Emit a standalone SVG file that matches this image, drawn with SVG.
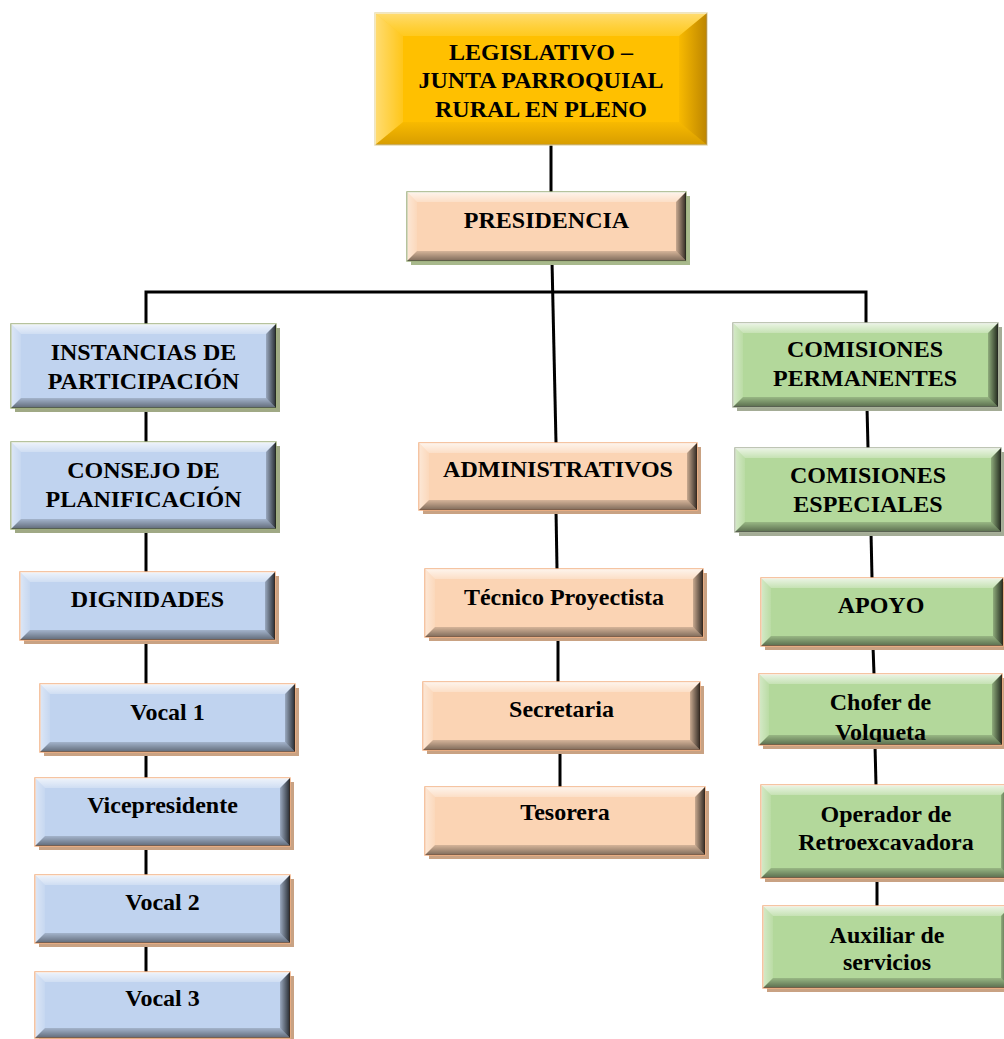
<svg xmlns="http://www.w3.org/2000/svg" width="1004" height="1039" viewBox="0 0 1004 1039">
<defs>
<linearGradient id="gTop" x1="0" y1="0" x2="0" y2="1"><stop offset="0" stop-color="#fff" stop-opacity="0.75"/><stop offset="1" stop-color="#fff" stop-opacity="0.25"/></linearGradient>
<linearGradient id="gLeft" x1="0" y1="0" x2="1" y2="0"><stop offset="0" stop-color="#fff" stop-opacity="0.45"/><stop offset="1" stop-color="#fff" stop-opacity="0.1"/></linearGradient>
<linearGradient id="gRight" x1="0" y1="0" x2="1" y2="0"><stop offset="0" stop-color="#000" stop-opacity="0.2"/><stop offset="1" stop-color="#000" stop-opacity="0.8"/></linearGradient>
<linearGradient id="gBottom" x1="0" y1="0" x2="0" y2="1"><stop offset="0" stop-color="#000" stop-opacity="0.15"/><stop offset="1" stop-color="#000" stop-opacity="0.5"/></linearGradient>
<linearGradient id="gTopGold" x1="0" y1="0" x2="0" y2="1"><stop offset="0" stop-color="#fff" stop-opacity="0.45"/><stop offset="1" stop-color="#FFE066" stop-opacity="0.3"/></linearGradient>
<linearGradient id="gRightGold" x1="0" y1="0" x2="1" y2="0"><stop offset="0" stop-color="#7A4A00" stop-opacity="0.05"/><stop offset="1" stop-color="#7A4A00" stop-opacity="0.5"/></linearGradient>
<linearGradient id="gBottomGold" x1="0" y1="0" x2="0" y2="1"><stop offset="0" stop-color="#7A4A00" stop-opacity="0.05"/><stop offset="1" stop-color="#7A4A00" stop-opacity="0.3"/></linearGradient>
<clipPath id="clipChofer"><rect x="759" y="674" width="245" height="68"/></clipPath>
</defs>
<style>
.blue{fill:#C0D3EF}
.green{fill:#B3D89B}
.peach{fill:#FBD4B4}
.gold{fill:#FFC000}
.bd-peach{stroke:#F2B184;stroke-width:1.5}
.bd-olive{stroke:#9FB07E;stroke-width:1.5}
.bd-gray{stroke:#A9B39C;stroke-width:1.5}
.bd-gold{stroke:#E9DDB0;stroke-width:1.5}
.sh-brown{fill:#C9A283}
.sh-olive{fill:#A0A985}
.sh-green{fill:#A8B98C}
.sh-gray{fill:#A4AC96}
.bt{fill:url(#gTop)}
.bl{fill:url(#gLeft)}
.br{fill:url(#gRight)}
.bb{fill:url(#gBottom)}
.bt-gold{fill:url(#gTopGold)}
.br-gold{fill:url(#gRightGold)}
.bb-gold{fill:url(#gBottomGold)}
text{font-family:"Liberation Serif","Times New Roman",serif;font-weight:bold;font-size:24px;fill:#000;text-anchor:middle}
</style>
<rect width="1004" height="1039" fill="#fff"/>
<g id="connectors" stroke="#000" stroke-width="3" fill="none">
<line x1="551" y1="145" x2="551" y2="192"/>
<line x1="552" y1="261" x2="556" y2="443"/>
<polyline points="146,324 146,292 866,292 866,323"/>
<line x1="146" y1="408" x2="146" y2="442"/>
<line x1="146" y1="529" x2="146" y2="572"/>
<line x1="146" y1="640" x2="146" y2="684"/>
<line x1="146" y1="752" x2="146" y2="778"/>
<line x1="146" y1="846" x2="146" y2="875"/>
<line x1="146" y1="943" x2="146" y2="972"/>
<line x1="556" y1="510" x2="557" y2="569"/>
<line x1="558" y1="637" x2="558" y2="682"/>
<line x1="560" y1="750" x2="560" y2="787"/>
<line x1="867" y1="407" x2="868" y2="448"/>
<line x1="871" y1="532" x2="872" y2="578"/>
<line x1="873" y1="646" x2="874" y2="674"/>
<line x1="875" y1="745" x2="876" y2="785"/>
<line x1="877" y1="878" x2="877" y2="906"/>
</g>
<g id="n-legislativo">
<rect x="375" y="13" width="332" height="132" class="gold bd-gold"/>
<path class="bt-gold" d="M375,13 H707 L679,36 H403 Z"/>
<path class="bl" d="M375,13 L403,36 V122 L375,145 Z"/>
<path class="br-gold" d="M707,13 V145 L679,122 V36 Z"/>
<path class="bb-gold" d="M375,145 H707 L679,122 H403 Z"/>
<text x="541" y="60">LEGISLATIVO –</text>
<text x="541" y="88">JUNTA PARROQUIAL</text>
<text x="541" y="117">RURAL EN PLENO</text>
</g>
<g id="n-presidencia">
<rect x="411" y="196" width="279" height="69" class="sh-green"/>
<rect x="407" y="192" width="279" height="69" class="peach bd-olive"/>
<path class="bt" d="M407,192 H686 L676,202 H417 Z"/>
<path class="bl" d="M407,192 L417,202 V251 L407,261 Z"/>
<path class="br" d="M686,192 V261 L676,251 V202 Z"/>
<path class="bb" d="M407,261 H686 L676,251 H417 Z"/>
<text x="546.5" y="228">PRESIDENCIA</text>
</g>
<g id="n-instancias">
<rect x="15" y="328" width="265" height="84" class="sh-olive"/>
<rect x="11" y="324" width="265" height="84" class="blue bd-olive"/>
<path class="bt" d="M11,324 H276 L266,334 H21 Z"/>
<path class="bl" d="M11,324 L21,334 V398 L11,408 Z"/>
<path class="br" d="M276,324 V408 L266,398 V334 Z"/>
<path class="bb" d="M11,408 H276 L266,398 H21 Z"/>
<text x="143.5" y="360">INSTANCIAS DE</text>
<text x="143.5" y="389">PARTICIPACIÓN</text>
</g>
<g id="n-consejo">
<rect x="15" y="446" width="265" height="87" class="sh-olive"/>
<rect x="11" y="442" width="265" height="87" class="blue bd-olive"/>
<path class="bt" d="M11,442 H276 L266,452 H21 Z"/>
<path class="bl" d="M11,442 L21,452 V519 L11,529 Z"/>
<path class="br" d="M276,442 V529 L266,519 V452 Z"/>
<path class="bb" d="M11,529 H276 L266,519 H21 Z"/>
<text x="143.5" y="478">CONSEJO DE</text>
<text x="143.5" y="507">PLANIFICACIÓN</text>
</g>
<g id="n-dignidades">
<rect x="24" y="576" width="255" height="68" class="sh-brown"/>
<rect x="20" y="572" width="255" height="68" class="blue bd-peach"/>
<path class="bt" d="M20,572 H275 L265,582 H30 Z"/>
<path class="bl" d="M20,572 L30,582 V630 L20,640 Z"/>
<path class="br" d="M275,572 V640 L265,630 V582 Z"/>
<path class="bb" d="M20,640 H275 L265,630 H30 Z"/>
<text x="147.5" y="607">DIGNIDADES</text>
</g>
<g id="n-vocal1">
<rect x="44" y="688" width="255" height="68" class="sh-brown"/>
<rect x="40" y="684" width="255" height="68" class="blue bd-peach"/>
<path class="bt" d="M40,684 H295 L285,694 H50 Z"/>
<path class="bl" d="M40,684 L50,694 V742 L40,752 Z"/>
<path class="br" d="M295,684 V752 L285,742 V694 Z"/>
<path class="bb" d="M40,752 H295 L285,742 H50 Z"/>
<text x="167.5" y="720">Vocal 1</text>
</g>
<g id="n-vicepresidente">
<rect x="39" y="782" width="255" height="68" class="sh-brown"/>
<rect x="35" y="778" width="255" height="68" class="blue bd-peach"/>
<path class="bt" d="M35,778 H290 L280,788 H45 Z"/>
<path class="bl" d="M35,778 L45,788 V836 L35,846 Z"/>
<path class="br" d="M290,778 V846 L280,836 V788 Z"/>
<path class="bb" d="M35,846 H290 L280,836 H45 Z"/>
<text x="162.5" y="813">Vicepresidente</text>
</g>
<g id="n-vocal2">
<rect x="39" y="879" width="255" height="68" class="sh-brown"/>
<rect x="35" y="875" width="255" height="68" class="blue bd-peach"/>
<path class="bt" d="M35,875 H290 L280,885 H45 Z"/>
<path class="bl" d="M35,875 L45,885 V933 L35,943 Z"/>
<path class="br" d="M290,875 V943 L280,933 V885 Z"/>
<path class="bb" d="M35,943 H290 L280,933 H45 Z"/>
<text x="162.5" y="910">Vocal 2</text>
</g>
<g id="n-vocal3">
<rect x="39" y="976" width="255" height="66" class="sh-brown"/>
<rect x="35" y="972" width="255" height="66" class="blue bd-peach"/>
<path class="bt" d="M35,972 H290 L280,982 H45 Z"/>
<path class="bl" d="M35,972 L45,982 V1028 L35,1038 Z"/>
<path class="br" d="M290,972 V1038 L280,1028 V982 Z"/>
<path class="bb" d="M35,1038 H290 L280,1028 H45 Z"/>
<text x="162.5" y="1006">Vocal 3</text>
</g>
<g id="n-administrativos">
<rect x="423" y="447" width="278" height="67" class="sh-brown"/>
<rect x="419" y="443" width="278" height="67" class="peach bd-peach"/>
<path class="bt" d="M419,443 H697 L687,453 H429 Z"/>
<path class="bl" d="M419,443 L429,453 V500 L419,510 Z"/>
<path class="br" d="M697,443 V510 L687,500 V453 Z"/>
<path class="bb" d="M419,510 H697 L687,500 H429 Z"/>
<text x="558" y="477">ADMINISTRATIVOS</text>
</g>
<g id="n-tecnico">
<rect x="429" y="573" width="278" height="68" class="sh-brown"/>
<rect x="425" y="569" width="278" height="68" class="peach bd-peach"/>
<path class="bt" d="M425,569 H703 L693,579 H435 Z"/>
<path class="bl" d="M425,569 L435,579 V627 L425,637 Z"/>
<path class="br" d="M703,569 V637 L693,627 V579 Z"/>
<path class="bb" d="M425,637 H703 L693,627 H435 Z"/>
<text x="564" y="605">Técnico Proyectista</text>
</g>
<g id="n-secretaria">
<rect x="427" y="686" width="277" height="68" class="sh-brown"/>
<rect x="423" y="682" width="277" height="68" class="peach bd-peach"/>
<path class="bt" d="M423,682 H700 L690,692 H433 Z"/>
<path class="bl" d="M423,682 L433,692 V740 L423,750 Z"/>
<path class="br" d="M700,682 V750 L690,740 V692 Z"/>
<path class="bb" d="M423,750 H700 L690,740 H433 Z"/>
<text x="561.5" y="717">Secretaria</text>
</g>
<g id="n-tesorera">
<rect x="429" y="791" width="280" height="68" class="sh-brown"/>
<rect x="425" y="787" width="280" height="68" class="peach bd-peach"/>
<path class="bt" d="M425,787 H705 L695,797 H435 Z"/>
<path class="bl" d="M425,787 L435,797 V845 L425,855 Z"/>
<path class="br" d="M705,787 V855 L695,845 V797 Z"/>
<path class="bb" d="M425,855 H705 L695,845 H435 Z"/>
<text x="565" y="820">Tesorera</text>
</g>
<g id="n-permanentes">
<rect x="737" y="327" width="265" height="84" class="sh-gray"/>
<rect x="733" y="323" width="265" height="84" class="green bd-gray"/>
<path class="bt" d="M733,323 H998 L988,333 H743 Z"/>
<path class="bl" d="M733,323 L743,333 V397 L733,407 Z"/>
<path class="br" d="M998,323 V407 L988,397 V333 Z"/>
<path class="bb" d="M733,407 H998 L988,397 H743 Z"/>
<text x="865" y="357">COMISIONES</text>
<text x="865" y="386">PERMANENTES</text>
</g>
<g id="n-especiales">
<rect x="739" y="452" width="266" height="84" class="sh-gray"/>
<rect x="735" y="448" width="266" height="84" class="green bd-gray"/>
<path class="bt" d="M735,448 H1001 L991,458 H745 Z"/>
<path class="bl" d="M735,448 L745,458 V522 L735,532 Z"/>
<path class="br" d="M1001,448 V532 L991,522 V458 Z"/>
<path class="bb" d="M735,532 H1001 L991,522 H745 Z"/>
<text x="868" y="483">COMISIONES</text>
<text x="868" y="512">ESPECIALES</text>
</g>
<g id="n-apoyo">
<rect x="765" y="582" width="242" height="68" class="sh-brown"/>
<rect x="761" y="578" width="242" height="68" class="green bd-peach"/>
<path class="bt" d="M761,578 H1003 L993,588 H771 Z"/>
<path class="bl" d="M761,578 L771,588 V636 L761,646 Z"/>
<path class="br" d="M1003,578 V646 L993,636 V588 Z"/>
<path class="bb" d="M761,646 H1003 L993,636 H771 Z"/>
<text x="881" y="613">APOYO</text>
</g>
<g id="n-chofer">
<rect x="763" y="678" width="243" height="71" class="sh-brown"/>
<rect x="759" y="674" width="243" height="71" class="green bd-peach"/>
<path class="bt" d="M759,674 H1002 L992,684 H769 Z"/>
<path class="bl" d="M759,674 L769,684 V735 L759,745 Z"/>
<path class="br" d="M1002,674 V745 L992,735 V684 Z"/>
<path class="bb" d="M759,745 H1002 L992,735 H769 Z"/>
<g clip-path="url(#clipChofer)">
<text x="880.5" y="710">Chofer de</text>
<text x="880.5" y="740">Volqueta</text>
</g>
</g>
<g id="n-operador">
<rect x="765" y="789" width="250" height="93" class="sh-brown"/>
<rect x="761" y="785" width="250" height="93" class="green bd-peach"/>
<path class="bt" d="M761,785 H1011 L1001,795 H771 Z"/>
<path class="bl" d="M761,785 L771,795 V868 L761,878 Z"/>
<path class="br" d="M1011,785 V878 L1001,868 V795 Z"/>
<path class="bb" d="M761,878 H1011 L1001,868 H771 Z"/>
<text x="886" y="822">Operador de</text>
<text x="886" y="850">Retroexcavadora</text>
</g>
<g id="n-auxiliar">
<rect x="767" y="910" width="248" height="82" class="sh-brown"/>
<rect x="763" y="906" width="248" height="82" class="green bd-peach"/>
<path class="bt" d="M763,906 H1011 L1001,916 H773 Z"/>
<path class="bl" d="M763,906 L773,916 V978 L763,988 Z"/>
<path class="br" d="M1011,906 V988 L1001,978 V916 Z"/>
<path class="bb" d="M763,988 H1011 L1001,978 H773 Z"/>
<text x="887" y="943">Auxiliar de</text>
<text x="887" y="970">servicios</text>
</g>
</svg>
